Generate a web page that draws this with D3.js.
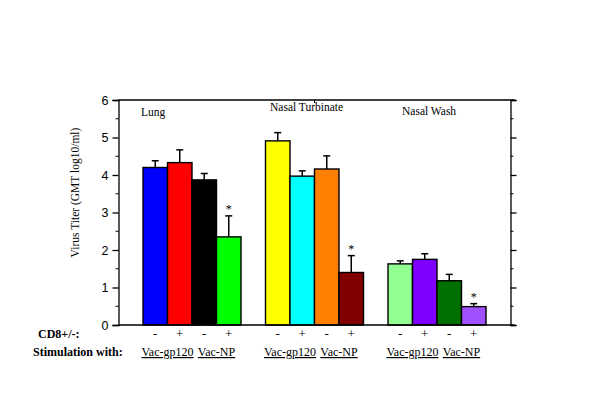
<!DOCTYPE html>
<html><head><meta charset="utf-8">
<script src="https://cdn.jsdelivr.net/npm/d3@7"></script>
<style>body{margin:0;background:#fff}</style>
</head><body>
<svg id="c" width="600" height="400"></svg>
<script>
const groups = ["Lung", "Nasal Turbinate", "Nasal Wash"];
const cd8 = ["-", "+", "-", "+"];
const stimulation = ["Vac-gp120", "Vac-NP"];
const values = [
  [4.20, 4.33, 3.87, 2.35],
  [4.91, 3.97, 4.16, 1.40],
  [1.63, 1.75, 1.18, 0.49]
];
const errors = [
  [0.18, 0.34, 0.17, 0.56],
  [0.22, 0.14, 0.35, 0.45],
  [0.08, 0.15, 0.17, 0.08]
];
const significant = [
  [false, false, false, true],
  [false, false, false, true],
  [false, false, false, true]
];
const colors = [
  ["#0000ff", "#ff0000", "#000000", "#00ff00"],
  ["#ffff00", "#00ffff", "#ff8000", "#800000"],
  ["#93ff93", "#8000ff", "#007000", "#a050ff"]
];
const yTicks = [0, 1, 2, 3, 4, 5, 6];

const svg = d3.select("#c");
const L = 118.5, R = 510.5, T = 100, B = 325;
// 16 slots: gap + 4 bars + gap + 4 bars + gap + 4 bars + gap
const slots = d3.range(16);
const x = d3.scaleBand().domain(slots).range([L, R]).padding(0);
const y = d3.scaleLinear().domain([0, 6]).range([B, T]);
const slotOf = (g, i) => 1 + g * 5 + i;

const serif = "'Liberation Serif','Times New Roman',serif";
const sans = "'Liberation Sans',Arial,sans-serif";

// frame
svg.append("line").attr("x1", L).attr("x2", R + 4).attr("y1", T).attr("y2", T).attr("stroke", "#000").attr("stroke-width", 1.3);
svg.append("line").attr("x1", (L + R) / 2).attr("x2", (L + R) / 2).attr("y1", T).attr("y2", T + 3).attr("stroke", "#000").attr("stroke-width", 1);

// left axis
const yl = svg.append("g").attr("transform", `translate(${L},0)`)
  .call(d3.axisLeft(y).tickValues(yTicks).tickSize(6).tickPadding(4).tickFormat(d3.format("d")));
yl.selectAll("text").attr("font-family", sans).attr("font-size", 12.5).attr("fill", "#000");
yl.select(".domain").attr("stroke-width", 1.3);
yl.selectAll(".tick line").attr("stroke-width", 1.3);
const minor = d3.range(0.5, 6, 1);
yl.selectAll(".minor").data(minor).enter().append("line")
  .attr("x1", -3).attr("x2", 0).attr("y1", d => y(d)).attr("y2", d => y(d)).attr("stroke", "#000");

// right axis
const yr = svg.append("g").attr("transform", `translate(${R},0)`)
  .call(d3.axisRight(y).tickValues(yTicks).tickSize(6).tickFormat(""));
yr.select(".domain").attr("stroke-width", 1.3);
yr.selectAll(".tick line").attr("stroke-width", 1.3);
yr.selectAll(".minor").data(minor).enter().append("line")
  .attr("x1", 0).attr("x2", 3).attr("y1", d => y(d)).attr("y2", d => y(d)).attr("stroke", "#000");

// bars
const data = [];
groups.forEach((g, gi) => values[gi].forEach((v, i) => data.push({
  gi, i, v, e: errors[gi][i], c: colors[gi][i], s: significant[gi][i], slot: slotOf(gi, i)
})));

const bw = x.bandwidth();
// error bars
svg.selectAll(".err").data(data).enter().append("g").each(function(d) {
  const cx = x(d.slot) + bw / 2;
  const g = d3.select(this);
  g.append("line").attr("x1", cx).attr("x2", cx).attr("y1", y(d.v)).attr("y2", y(d.v + d.e)).attr("stroke", "#000").attr("stroke-width", 1.5);
  g.append("line").attr("x1", cx - 3.5).attr("x2", cx + 3.5).attr("y1", y(d.v + d.e)).attr("y2", y(d.v + d.e)).attr("stroke", "#000").attr("stroke-width", 1.5);
  if (d.s) g.append("text").attr("x", cx).attr("y", y(d.v + d.e) - 3).attr("text-anchor", "middle")
    .attr("font-family", serif).attr("font-size", 12).text("*");
});
svg.selectAll(".bar").data(data).enter().append("rect")
  .attr("x", d => x(d.slot)).attr("width", bw)
  .attr("y", d => y(d.v)).attr("height", d => B - y(d.v))
  .attr("fill", d => d.c).attr("stroke", "#000").attr("stroke-width", 1.4);

// bottom axis line
svg.append("line").attr("x1", L).attr("x2", R + 4).attr("y1", B).attr("y2", B).attr("stroke", "#000").attr("stroke-width", 1.3);

// group titles
const titlePos = [[141, 116], [270, 111], [402, 115]];
groups.forEach((g, gi) => svg.append("text").attr("x", titlePos[gi][0]).attr("y", titlePos[gi][1])
  .attr("font-family", serif).attr("font-size", 11.5).text(g));

// y label
svg.append("text").attr("transform", `translate(79,${(T + B) / 2 - 20}) rotate(-90)`)
  .attr("text-anchor", "middle").attr("font-family", serif).attr("font-size", 11.5).text("Virus Titer (GMT log10/ml)");

// CD8 signs
svg.selectAll(".sign").data(data).enter().append("text")
  .attr("x", d => x(d.slot) + bw / 2).attr("y", 338).attr("text-anchor", "middle")
  .attr("font-family", serif).attr("font-size", 13).text(d => cd8[d.i]);

svg.append("text").attr("x", 38).attr("y", 338).attr("font-family", serif).attr("font-weight", "bold").attr("font-size", 12).text("CD8+/-:");
svg.append("text").attr("x", 33).attr("y", 356).attr("font-family", serif).attr("font-weight", "bold").attr("font-size", 12).text("Stimulation with:");

// stimulation labels
groups.forEach((g, gi) => stimulation.forEach((s, si) => {
  const cx = x(slotOf(gi, si * 2 + 1));
  svg.append("text").attr("x", cx).attr("y", 356).attr("text-anchor", "middle")
    .attr("font-family", serif).attr("font-size", 12).attr("text-decoration", "underline").text(s);
}));
</script>
</body></html>
